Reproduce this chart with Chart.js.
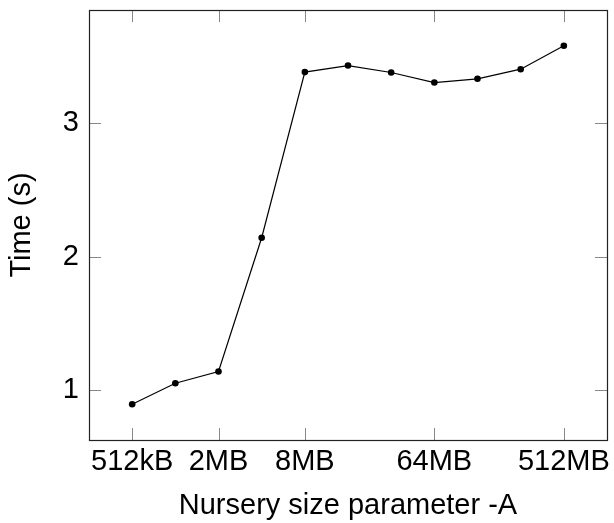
<!DOCTYPE html>
<html>
<head>
<meta charset="utf-8">
<script src="https://cdn.jsdelivr.net/npm/chart.js@4"></script>
<style>
  html, body { margin: 0; padding: 0; background: #fff; }
  #wrap { width: 614px; height: 523px; }
</style>
</head>
<body>
<div id="wrap"><canvas id="c" width="614" height="523"></canvas></div>
<script>
// Nursery sizes in kB (512kB .. 512MB)
const sizesKB = [512, 1024, 2048, 4096, 8192, 16384, 32768, 65536, 131072, 262144, 524288];
// Time (s)
const times = [0.895, 1.052, 1.14, 2.141, 3.381, 3.43, 3.378, 3.303, 3.331, 3.403, 3.578];
// Tick values and labels on the x axis
const xTickValues = [512, 2048, 8192, 65536, 524288];
const xTickLabels = ['512kB', '2MB', '8MB', '64MB', '512MB'];
const yTickValues = [1, 2, 3];

const FONT = "'Liberation Sans', 'DejaVu Sans', sans-serif";
const FS = 29;

const framePlugin = {
  id: 'frame',
  beforeDatasetsDraw(chart) {
    const {ctx, chartArea: a, scales: {x, y}} = chart;
    ctx.save();
    ctx.strokeStyle = '#888';
    ctx.lineWidth = 1;
    const tl = 12;
    ctx.beginPath();
    xTickValues.forEach(v => {
      const px = Math.round(x.getPixelForValue(v)) + 0.5;
      ctx.moveTo(px, a.bottom); ctx.lineTo(px, a.bottom - tl);
      ctx.moveTo(px, a.top); ctx.lineTo(px, a.top + tl);
    });
    yTickValues.forEach(v => {
      const py = Math.round(y.getPixelForValue(v)) + 0.5;
      ctx.moveTo(a.left, py); ctx.lineTo(a.left + tl, py);
      ctx.moveTo(a.right, py); ctx.lineTo(a.right - tl, py);
    });
    ctx.stroke();
    ctx.strokeStyle = '#222';
    ctx.lineWidth = 1.2;
    ctx.strokeRect(Math.round(a.left) + 0.5, Math.round(a.top) + 0.5,
                   Math.round(a.right - a.left), Math.round(a.bottom - a.top));
    ctx.restore();
  }
};

new Chart(document.getElementById('c'), {
  type: 'line',
  data: {
    datasets: [{
      data: sizesKB.map((s, i) => ({x: s, y: times[i]})),
      borderColor: '#000',
      backgroundColor: '#000',
      borderWidth: 1.2,
      pointRadius: 3.3,
      pointBackgroundColor: '#000',
      pointBorderWidth: 0,
      tension: 0,
      fill: false
    }]
  },
  options: {
    responsive: false,
    animation: false,
    devicePixelRatio: 1,
    layout: { padding: { left: 5, right: 7, top: 10, bottom: 0 } },
    plugins: { legend: { display: false }, tooltip: { enabled: false } },
    scales: {
      x: {
        type: 'logarithmic',
        min: 256,
        max: 1048576,
        grid: { display: false, drawTicks: false },
        border: { display: false },
        afterBuildTicks: s => { s.ticks = xTickValues.map(v => ({value: v})); },
        afterFit: s => { s.height = 83; s.paddingLeft = 0; s.paddingRight = 0; },
        ticks: {
          autoSkip: false,
          maxRotation: 0,
          padding: 5,
          color: '#000',
          font: { family: FONT, size: FS },
          callback: (v) => { const i = xTickValues.indexOf(v); return i >= 0 ? xTickLabels[i] : ''; }
        },
        title: {
          display: true,
          text: 'Nursery size parameter -A',
          color: '#000',
          font: { family: FONT, size: FS },
          padding: { top: 0, bottom: 0 }
        }
      },
      y: {
        type: 'linear',
        min: 0.627,
        max: 3.846,
        grid: { display: false, drawTicks: false },
        border: { display: false },
        afterBuildTicks: s => { s.ticks = yTickValues.map(v => ({value: v})); },
        afterFit: s => { s.width = 84; s.paddingTop = 0; s.paddingBottom = 0; },
        ticks: {
          padding: 10,
          color: '#000',
          font: { family: FONT, size: FS },
          callback: v => String(v)
        },
        title: {
          display: true,
          text: 'Time (s)',
          color: '#000',
          font: { family: FONT, size: FS },
          padding: { top: 0, bottom: 0 }
        }
      }
    }
  },
  plugins: [framePlugin]
});
</script>
</body>
</html>
